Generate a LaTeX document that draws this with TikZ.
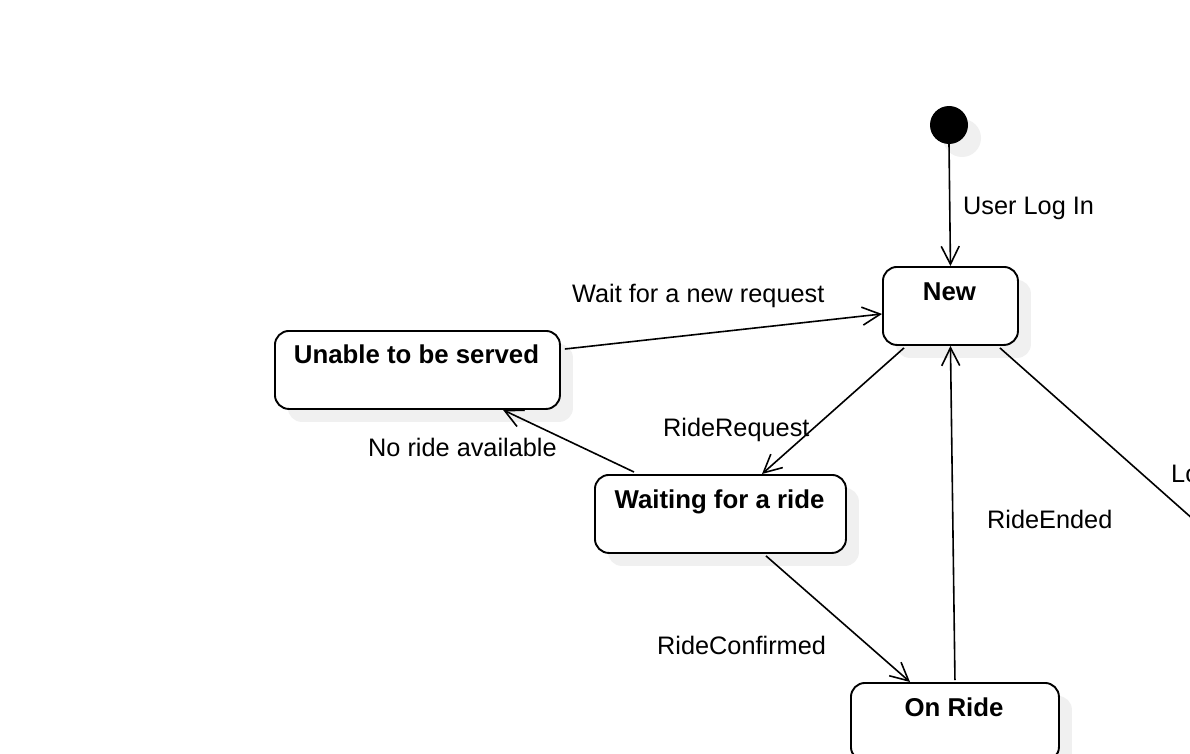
\documentclass[tikz,border=0pt]{standalone}
\usepackage{fontspec}
\setmainfont{Liberation Sans}
\usetikzlibrary{arrows.meta,shadows,calc}
\begin{document}
\begin{tikzpicture}[x=1pt,y=-1pt,
  lbl/.style={inner sep=0pt, anchor=base west, font=\fontsize{25.3}{30}\selectfont},
  shadowed/.style={drop shadow={shadow xshift=13pt, shadow yshift=-13pt, fill=black!6, opacity=1}},
  state/.style={draw, line width=1.9pt, rounded corners=14pt, fill=white, shadowed, anchor=north west, inner sep=0pt, minimum height=78pt},
  stitle/.style={inner sep=0pt, anchor=base, font=\fontsize{25.8}{30}\selectfont\bfseries},
  conn/.style={line width=1.6pt, -{Straight Barb[length=18pt,width=18pt]}},
]
\useasboundingbox (0,0) rectangle (1190,754);
\clip (0,0) rectangle (1190,754);
\fill[white] (0,0) rectangle (1190,754);

% states
\node[circle, fill=black, minimum size=38pt, inner sep=0pt, shadowed] (init) at (949,125) {};
\node[state, minimum width=135pt] (new) at (882,266) {};
\node[state, minimum width=285pt] (unable) at (274,330) {};
\node[state, minimum width=251pt] (waiting) at (594,474) {};
\node[state, minimum width=208pt] (onride) at (850,682) {};

% state titles
\node[stitle] (newt) at (949.5,300) {New};
\node[stitle] (unablet) at (416.5,363) {Unable to be served};
\node[stitle] (waitingt) at (719.5,508) {Waiting for a ride};
\node[stitle] (onridet) at (954,716) {On Ride};

% off-canvas end
\coordinate (offend) at (1300,614);

% connectors
\draw[conn] (init.south) -- (new.north);
\draw[conn] ($(unable.north east)+(4,19)$) -- ($(new.west)+(0,8)$);
\draw[conn] ($(new.south west)+(22,2)$) -- ($(waiting.north west)+(168,0)$);
\draw[conn] ($(waiting.north west)+(40,-2)$) -- ($(unable.south west)+(229,0)$);
\draw[conn] ($(waiting.south west)+(172,2)$) -- ($(onride.north west)+(60,0)$);
\draw[conn] ($(onride.north)+(0,-2)$) -- (new.south);
\draw[conn] ($(new.south east)+(-19,2)$) -- (offend);

% connector labels
\node[lbl] (l1) at (963,214) {User Log In};
\node[lbl] (l2) at (572,302) {Wait for a new request};
\node[lbl] (l3) at (663,436) {RideRequest};
\node[lbl] (l4) at (368,456) {No ride available};
\node[lbl] (l5) at (657,654) {RideConfirmed};
\node[lbl] (l6) at (987,528) {RideEnded};
\node[lbl] (l7) at (1171,482) {Log Out};
\end{tikzpicture}
\end{document}
